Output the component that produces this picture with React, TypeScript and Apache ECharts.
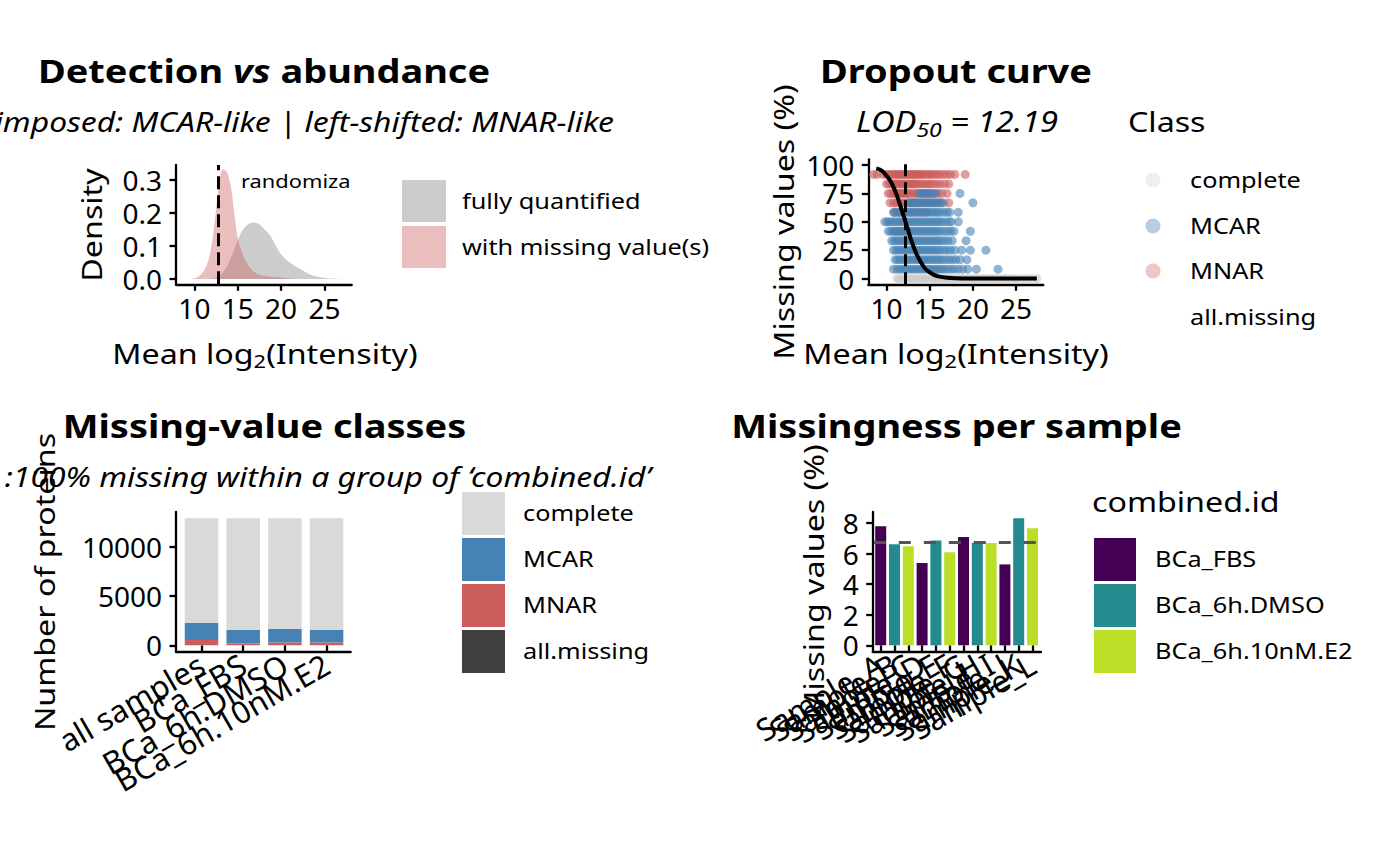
import React, { useEffect, useRef } from 'react';
import * as echarts from 'echarts';

// ---------- Panel 1: density of mean log2 intensity ----------
const fullyX = [11.5, 12.3, 13.0, 13.7, 14.3, 14.9, 15.5, 16.2, 16.8, 17.4, 18.0, 18.7, 19.3, 19.9, 20.6, 21.3, 22.0, 22.7, 23.5, 24.5, 25.5, 27.0];
const fullyY = [0, 0.003, 0.012, 0.035, 0.07, 0.11, 0.145, 0.166, 0.171, 0.167, 0.152, 0.133, 0.105, 0.078, 0.058, 0.045, 0.033, 0.023, 0.012, 0.005, 0.002, 0];
const missX = [9.5, 10.2, 10.8, 11.4, 11.9, 12.3, 12.7, 13.0, 13.3, 13.7, 14.0, 14.3, 14.65, 15.0, 15.5, 16.0, 16.5, 17.0, 17.6, 18.3, 19.0, 19.8, 20.6, 21.5];
const missY = [0, 0.004, 0.015, 0.04, 0.09, 0.165, 0.255, 0.315, 0.332, 0.325, 0.305, 0.265, 0.19, 0.125, 0.08, 0.05, 0.032, 0.02, 0.012, 0.008, 0.007, 0.005, 0.002, 0];
const densityCut = 12.77;
const densityXTicks = [10, 15, 20, 25];
const densityYTicks = [0, 0.1, 0.2, 0.3];

// ---------- Panel 2: dropout curve ----------
const rowPct = [91.67, 83.33, 75, 66.67, 58.33, 50, 41.67, 33.33, 25, 16.67, 8.33];
const mnarRows = [
  [8.5, 8.9, 9.6, 10.0, 10.3, 10.5, 10.8, 11.0, 11.2, 11.4, 11.6, 11.8, 12.0, 12.2, 12.4, 12.6, 12.8, 13.0, 13.2, 13.4, 13.6, 13.8, 14.0, 14.2, 14.5, 14.8, 15.0, 15.3, 15.6, 15.9, 16.2, 16.6, 17.0, 17.4, 17.9, 19.1],
  [10.0, 10.3, 10.6, 10.8, 11.0, 11.2, 11.4, 11.6, 11.8, 12.0, 12.2, 12.4, 12.6, 12.8, 13.0, 13.2, 13.4, 13.6, 13.9, 14.2, 14.5, 14.8, 15.1, 15.4, 15.8, 16.2, 16.7, 17.2],
  [10.2, 10.5, 10.8, 11.0, 11.2, 11.4, 11.6, 11.8, 12.0, 12.2, 12.4, 12.6, 12.9, 13.2, 13.5, 13.8, 14.2, 14.6, 15.0, 15.5, 16.0, 16.4, 17.0],
  [10.4, 10.8, 11.1, 11.4, 11.7, 12.0, 12.3, 12.6, 12.9, 13.2, 13.5, 13.9, 14.3, 14.8, 15.2, 15.7, 16.3, 17.2],
  [10.9, 11.5, 12.1, 12.8, 13.4, 14.0, 14.6],
  [],
  [11.0, 11.5, 12.0, 12.6],
  [],
  [],
  [],
  [],
];
const mcarRows = [
  [],
  [],
  [13.8, 14.1, 14.4, 14.7, 15.0, 15.3, 15.7, 18.5],
  [12.6, 12.9, 13.2, 13.5, 13.8, 14.1, 14.4, 14.7, 15.0, 15.3, 15.6, 15.9, 16.2, 16.6, 20.0],
  [10.8, 11.1, 11.4, 11.7, 12.0, 12.3, 12.6, 12.9, 13.2, 13.5, 13.8, 14.1, 14.4, 14.7, 15.0, 15.3, 15.6, 15.9, 16.2, 16.6, 17.0, 17.3, 18.3],
  [9.8, 10.1, 10.4, 10.7, 11.0, 11.3, 11.6, 11.9, 12.2, 12.5, 12.8, 13.1, 13.4, 13.7, 14.0, 14.3, 14.6, 14.9, 15.2, 15.5, 15.8, 16.1, 16.4, 16.8, 17.2, 17.5, 18.3],
  [10.2, 10.5, 10.8, 11.1, 11.4, 11.7, 12.0, 12.3, 12.6, 12.9, 13.2, 13.5, 13.8, 14.1, 14.4, 14.7, 15.0, 15.3, 15.6, 15.9, 16.2, 16.6, 17.0, 17.4, 17.8, 19.7],
  [10.6, 10.9, 11.2, 11.5, 11.8, 12.1, 12.4, 12.7, 13.0, 13.3, 13.6, 13.9, 14.2, 14.5, 14.8, 15.1, 15.4, 15.7, 16.0, 16.3, 16.7, 17.1, 17.6, 19.2],
  [10.8, 11.1, 11.4, 11.7, 12.0, 12.3, 12.6, 12.9, 13.2, 13.5, 13.8, 14.1, 14.4, 14.7, 15.0, 15.3, 15.6, 15.9, 16.2, 16.6, 17.0, 17.4, 17.9, 18.7, 19.7, 21.5],
  [11.0, 11.3, 11.6, 11.9, 12.2, 12.5, 12.8, 13.1, 13.4, 13.7, 14.0, 14.3, 14.6, 14.9, 15.2, 15.5, 15.8, 16.1, 16.4, 16.8, 17.2, 17.6, 18.0, 18.5, 19.3],
  [10.8, 11.2, 11.5, 11.8, 12.1, 12.4, 12.7, 13.0, 13.3, 13.6, 13.9, 14.2, 14.5, 14.8, 15.1, 15.4, 15.7, 16.0, 16.3, 16.6, 17.0, 17.4, 17.8, 18.3, 18.8, 19.4, 20.4, 22.9],
];
const completeX = [11.2, 11.5, 11.9, 12.3, 12.7, 13.0, 13.4, 13.8, 14.2, 14.5, 14.9, 15.3, 15.7, 16.0, 16.4, 16.8, 17.2, 17.5, 17.9, 18.3, 18.7, 19.0, 19.4, 19.8, 20.2, 20.6, 21.0, 21.4, 21.8, 22.2, 22.6, 23.0, 23.5, 24.0, 24.5, 25.0, 25.6, 26.2, 26.8, 27.4];
const curveX = [8.8, 9.2, 9.6, 10.0, 10.4, 10.8, 11.2, 11.6, 12.0, 12.4, 12.8, 13.2, 13.6, 14.0, 14.5, 15.0, 15.5, 16.0, 17.0, 18.0, 20.0, 24.0, 27.4];
const curveY = [97, 96, 94, 90.5, 86.5, 80.5, 73, 64, 54.5, 45, 35, 26.5, 19.5, 14, 8.5, 5.5, 3.3, 2, 0.8, 0.3, 0.05, 0, 0];
const lod50 = 12.19;
const dropXTicks = [10, 15, 20, 25];
const dropYTicks = [0, 25, 50, 75, 100];

// ---------- Panel 3: missing-value classes ----------
const classCats = ['all samples', 'BCa_FBS', 'BCa_6h.DMSO', 'BCa_6h.10nM.E2'];
const classComplete = [10600, 11345, 11245, 11345];
const classMCAR = [1760, 1365, 1375, 1275];
const classMNAR = [540, 190, 280, 280];
const classAllMissing = [0, 0, 0, 0];
const classYTicks = [0, 5000, 10000];

// ---------- Panel 4: missingness per sample ----------
const sampleNames = ['Sample_A', 'Sample_B', 'Sample_C', 'Sample_D', 'Sample_E', 'Sample_F', 'Sample_G', 'Sample_H', 'Sample_I', 'Sample_J', 'Sample_K', 'Sample_L'];
const sampleGroups = ['BCa_FBS', 'BCa_6h.DMSO', 'BCa_6h.10nM.E2', 'BCa_FBS', 'BCa_6h.DMSO', 'BCa_6h.10nM.E2', 'BCa_FBS', 'BCa_6h.DMSO', 'BCa_6h.10nM.E2', 'BCa_FBS', 'BCa_6h.DMSO', 'BCa_6h.10nM.E2'];
const sampleMissing = [7.78, 6.6, 6.47, 5.38, 6.86, 6.08, 7.08, 6.7, 6.69, 5.29, 8.3, 7.65];
const meanMissing = 6.74;
const sampleYTicks = [0, 2, 4, 6, 8];
const groupNames = ['BCa_FBS', 'BCa_6h.DMSO', 'BCa_6h.10nM.E2'];
const groupColors = ['#440154', '#238A8D', '#BBDF27'];

const FONT = 'Noto Sans';
const SX = 1.15;
const TICK_FS = 28;
const CAT_FS = 31;
const SUB_FS = 27.7;

function zip(xs: number[], ys: number[]) {
  return xs.map((x, i) => [x, ys[i]]);
}

function label(text: string, x: number, y: number, size: number, o: any = {}) {
  const align = o.align || 'left';
  return {
    type: 'text',
    x,
    y,
    rotation: o.rot || 0,
    scaleX: o.sx ?? SX,
    z: 50,
    style: {
      text,
      fontSize: size,
      fontFamily: FONT,
      fontWeight: o.bold ? 'bold' : 'normal',
      fontStyle: o.italic ? 'italic' : 'normal',
      fill: '#000',
      align,
      textAlign: align,
      verticalAlign: 'middle',
      textVerticalAlign: 'middle',
      rich: o.rich,
    },
  };
}

function rect(x: number, y: number, w: number, h: number, fill: string) {
  return { type: 'rect', shape: { x, y, width: w, height: h }, style: { fill }, z: 40 };
}

const axisLineStyle = { show: true, onZero: false, lineStyle: { color: '#000', width: 2.3 } };

function valueAxis(gridIndex: number, min: number, max: number, ticks: number[], fmt: (v: number) => string, fs: number = TICK_FS) {
  return {
    type: 'value',
    gridIndex,
    min,
    max,
    axisLine: axisLineStyle,
    axisTick: { show: true, length: 6.5, customValues: ticks, lineStyle: { color: '#000', width: 2.3 } },
    axisLabel: {
      customValues: ticks, formatter: fmt, fontSize: fs, lineHeight: 20, fontFamily: FONT, color: '#000', margin: 14,
      hideOverlap: false, showMinLabel: true, showMaxLabel: true,
    },
    splitLine: { show: false },
  };
}

function frameAxis(gridIndex: number, min: number, max: number) {
  return {
    type: 'value', gridIndex, min, max,
    axisLine: axisLineStyle, axisTick: { show: false }, axisLabel: { show: false }, splitLine: { show: false },
  };
}

function hiddenValueAxis(gridIndex: number, min: number, max: number) {
  return { type: 'value', gridIndex, min, max, show: false, splitLine: { show: false } };
}

function catAxis(gridIndex: number, cats: string[]) {
  return {
    type: 'category', gridIndex, data: cats, boundaryGap: true,
    axisLine: { show: false },
    axisTick: { show: true, alignWithLabel: true, interval: 0, length: 6.5, lineStyle: { color: '#000', width: 2.3 } },
    axisLabel: {
      interval: 0, rotate: 30, fontSize: CAT_FS, lineHeight: 24, fontFamily: FONT, color: '#000', margin: 10,
      padding: [26, 0, 0, 0], hideOverlap: false, showMinLabel: true, showMaxLabel: true,
    },
    splitLine: { show: false },
  };
}

export default function App() {
  const ref = useRef<HTMLDivElement>(null);

  useEffect(() => {
    if (!ref.current) return;
    const chart = echarts.init(ref.current, null, { renderer: 'svg' });

    const mnarData: number[][] = [];
    const mcarData: number[][] = [];
    rowPct.forEach((p, i) => {
      mnarRows[i].forEach((x) => mnarData.push([x, p]));
      mcarRows[i].forEach((x) => mcarData.push([x, p]));
    });

    const classRange = [-645, 13545];
    const sampleRange = [-0.415, 8.715];

    const option: any = {
      animation: false,
      backgroundColor: '#fff',
      textStyle: { fontFamily: FONT },
      grid: [
        { left: 176, top: 165, width: 175.7, height: 119.3 },
        { left: 868.3, top: 159.3, width: 175, height: 125 },
        { left: 176, top: 512, width: 174.7, height: 139.7 },
        { left: 872.7, top: 512, width: 168.3, height: 139.7 },
        { left: 180.65, top: 512, width: 166.8, height: 139.7 },
        { left: 873.8, top: 512, width: 165.6, height: 139.7 },
      ],
      xAxis: [
        valueAxis(0, 7.88, 28.15, densityXTicks, (v) => String(v)),
        valueAxis(1, 7.88, 28.15, dropXTicks, (v) => String(v)),
        frameAxis(2, 0, 1),
        frameAxis(3, 0, 1),
        catAxis(4, classCats),
        catAxis(5, sampleNames),
      ],
      yAxis: [
        valueAxis(0, -0.016, 0.345, densityYTicks, (v) => v.toFixed(1)),
        valueAxis(1, -5, 105, dropYTicks, (v) => String(v)),
        valueAxis(2, classRange[0], classRange[1], classYTicks, (v) => String(v)),
        valueAxis(3, sampleRange[0], sampleRange[1], sampleYTicks, (v) => String(v)),
        hiddenValueAxis(4, classRange[0], classRange[1]),
        hiddenValueAxis(5, sampleRange[0], sampleRange[1]),
      ],
      series: [
        // panel 1
        {
          type: 'line', xAxisIndex: 0, yAxisIndex: 0, data: zip(fullyX, fullyY), smooth: 0.35, symbol: 'none',
          lineStyle: { opacity: 0, width: 0 }, areaStyle: { color: '#999999', opacity: 0.5 }, silent: true,
        },
        {
          type: 'line', xAxisIndex: 0, yAxisIndex: 0, data: zip(missX, missY), smooth: 0.35, symbol: 'none',
          lineStyle: { opacity: 0, width: 0 }, areaStyle: { color: '#CD5C5C', opacity: 0.4 }, silent: true,
          markLine: {
            silent: true, symbol: 'none', label: { show: false },
            lineStyle: { color: '#000', width: 3, type: [13, 6] },
            data: [{ xAxis: densityCut }],
          },
        },
        // panel 2
        {
          type: 'scatter', xAxisIndex: 1, yAxisIndex: 1, data: completeX.map((x) => [x, 0]), symbolSize: 9,
          itemStyle: { color: '#C4C4C4', opacity: 0.55 }, silent: true,
        },
        {
          type: 'scatter', xAxisIndex: 1, yAxisIndex: 1, data: mnarData, symbolSize: 9,
          itemStyle: { color: '#CD5C5C', opacity: 0.6 }, silent: true,
        },
        {
          type: 'scatter', xAxisIndex: 1, yAxisIndex: 1, data: mcarData, symbolSize: 9,
          itemStyle: { color: '#4682B4', opacity: 0.6 }, silent: true,
        },
        {
          type: 'line', xAxisIndex: 1, yAxisIndex: 1, data: zip(curveX, curveY), smooth: 0.3, symbol: 'none',
          lineStyle: { color: '#000', width: 4 }, silent: true, z: 5,
          markLine: {
            silent: true, symbol: 'none', label: { show: false },
            lineStyle: { color: '#000', width: 3, type: [12, 6] },
            data: [{ xAxis: lod50 }],
          },
        },
        // panel 3 (stacked bars, bottom to top)
        {
          name: 'all.missing', type: 'bar', xAxisIndex: 4, yAxisIndex: 4, stack: 'cls', barWidth: 33.5,
          data: classAllMissing, itemStyle: { color: '#404040' }, silent: true,
        },
        {
          name: 'MNAR', type: 'bar', xAxisIndex: 4, yAxisIndex: 4, stack: 'cls', barWidth: 33.5,
          data: classMNAR, itemStyle: { color: '#CD5C5C' }, silent: true,
        },
        {
          name: 'MCAR', type: 'bar', xAxisIndex: 4, yAxisIndex: 4, stack: 'cls', barWidth: 33.5,
          data: classMCAR, itemStyle: { color: '#4682B4' }, silent: true,
        },
        {
          name: 'complete', type: 'bar', xAxisIndex: 4, yAxisIndex: 4, stack: 'cls', barWidth: 33.5,
          data: classComplete, itemStyle: { color: '#D9D9D9' }, silent: true,
        },
        // panel 4
        {
          type: 'bar', xAxisIndex: 5, yAxisIndex: 5, barWidth: 11, silent: true,
          data: sampleMissing.map((v, i) => ({
            value: v,
            itemStyle: { color: groupColors[groupNames.indexOf(sampleGroups[i])] },
          })),
          markLine: {
            silent: true, symbol: 'none', label: { show: false },
            lineStyle: { color: '#555555', width: 3, type: [12, 13] },
            data: [{ yAxis: meanMissing }],
          },
        },
      ],
      graphic: [
        // titles
        label('Detection {bi|vs} abundance', 264, 70, 33, {
          bold: true, align: 'center',
          rich: { bi: { fontSize: 33, fontFamily: FONT, fontWeight: 'bold', fontStyle: 'italic' } },
        }),
        label('Dropout curve', 956, 70, 33, { bold: true, align: 'center' }),
        label('Missing-value classes', 264.5, 425, 33, { bold: true, align: 'center' }),
        label('Missingness per sample', 956.5, 425, 33, { bold: true, align: 'center' }),
        // subtitles
        label('imposed: MCAR-like | left-shifted: MNAR-like', 614, 121.5, SUB_FS, { italic: true, align: 'right' }),
        label('LOD{s|50} = 12.19', 957, 121, 28.5, {
          italic: true, align: 'center',
          rich: { s: { fontSize: 20, fontFamily: FONT, fontStyle: 'italic', padding: [17, 0, 0, 0] } },
        }),
        label(':100% missing within a group of \u2018combined.id\u2019', 651, 476.5, SUB_FS, { italic: true, align: 'right' }),
        // axis titles
        label('Mean log{s|2}(Intensity)', 265, 353, 28, {
          align: 'center', rich: { s: { fontSize: 19, fontFamily: FONT, padding: [16, 0, 0, 0] } },
        }),
        label('Mean log{s|2}(Intensity)', 956, 353, 28, {
          align: 'center', rich: { s: { fontSize: 19, fontFamily: FONT, padding: [16, 0, 0, 0] } },
        }),
        label('Density', 91, 225, 28, { align: 'center', rot: Math.PI / 2 }),
        label('Missing values (%)', 783, 222, 28, { align: 'center', rot: Math.PI / 2 }),
        label('Number of proteins', 44, 582, 28, { align: 'center', rot: Math.PI / 2 }),
        label('Missing values (%)', 813, 582, 28, { align: 'center', rot: Math.PI / 2 }),
        // in-plot annotation
        label('randomiza', 241, 181, 19),
        // legend panel 1
        rect(402, 180, 44, 42, '#CCCCCC'),
        rect(402, 226, 44, 42, '#EBBEBE'),
        label('fully quantified', 462, 201, 22),
        label('with missing value(s)', 462, 247, 22),
        // legend panel 2
        label('Class', 1128, 121, 28),
        { type: 'circle', shape: { cx: 1153, cy: 180, r: 7.5 }, style: { fill: '#EFEFEF' }, z: 40 },
        { type: 'circle', shape: { cx: 1153, cy: 226, r: 7.5 }, style: { fill: '#B9CEE3' }, z: 40 },
        { type: 'circle', shape: { cx: 1153, cy: 271, r: 7.5 }, style: { fill: '#EFC5C5' }, z: 40 },
        label('complete', 1190, 180, 22),
        label('MCAR', 1190, 226, 22),
        label('MNAR', 1190, 271, 22),
        label('all.missing', 1190, 317, 22),
        // legend panel 3
        rect(462, 492, 43, 43, '#D9D9D9'),
        rect(462, 538, 43, 43, '#4682B4'),
        rect(462, 584, 43, 43, '#CD5C5C'),
        rect(462, 630, 43, 43, '#404040'),
        label('complete', 523, 513, 22),
        label('MCAR', 523, 559, 22),
        label('MNAR', 523, 605, 22),
        label('all.missing', 523, 651, 22),
        // legend panel 4
        label('combined.id', 1092, 501, 28),
        rect(1094, 538, 42, 43, groupColors[0]),
        rect(1094, 584, 42, 43, groupColors[1]),
        rect(1094, 630, 42, 43, groupColors[2]),
        label(groupNames[0], 1155, 559, 22),
        label(groupNames[1], 1155, 605, 22),
        label(groupNames[2], 1155, 651, 22),
      ],
    };

    chart.setOption(option);
    return () => chart.dispose();
  }, []);

  return (
    <div
      ref={ref}
      style={{ position: 'fixed', left: 0, top: 0, width: 1400, height: 866, background: '#fff' }}
    />
  );
}
